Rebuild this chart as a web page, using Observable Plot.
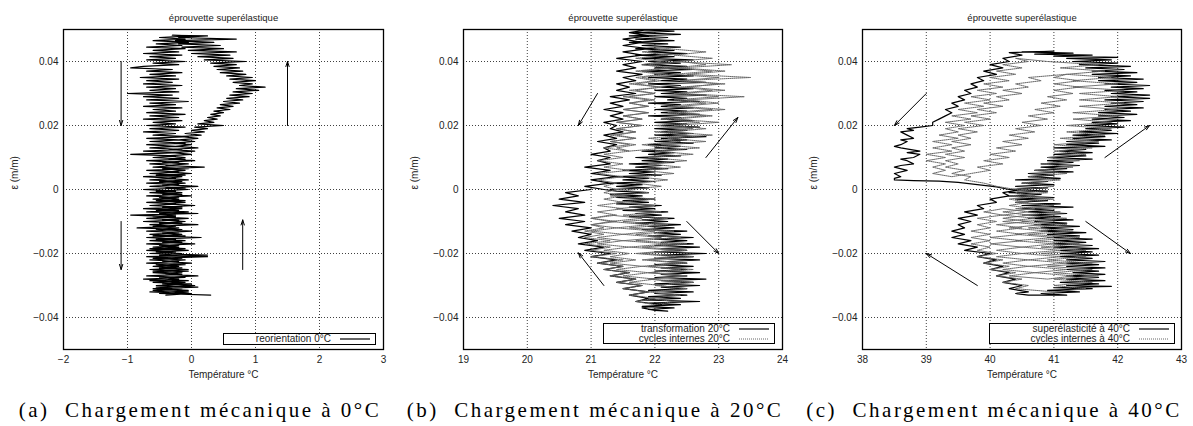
<!DOCTYPE html>
<html><head><meta charset="utf-8">
<script src="https://cdn.jsdelivr.net/npm/d3@7"></script>
<script src="https://cdn.jsdelivr.net/npm/@observablehq/plot@0.6"></script>
<style>
body{margin:0;background:#fff;}
#root{position:relative;width:1193px;height:426px;overflow:hidden;background:#fff;}
.panel{position:absolute;top:0;}
.cap{position:absolute;top:398px;font-family:"Liberation Serif","DejaVu Serif",serif;font-size:21px;letter-spacing:2.5px;white-space:pre;transform:translateX(-50%);color:#000;}
.leg{position:absolute;border:1px solid #000;background:#fff;font-family:"Liberation Sans",Arial,sans-serif;font-size:10px;color:#222;box-sizing:border-box;}
.row{display:flex;justify-content:flex-end;align-items:center;height:10px;line-height:10px;padding-right:5px;}
.row svg{margin-left:9px;}
</style></head>
<body><div id="root"></div>
<script>
// ---------- data ----------
const titleText = "éprouvette superélastique";
const xLabel = "Température °C";
const yLabel = "ε (m/m)";
const captions = ["(a)  Chargement mécanique à 0°C", "(b)  Chargement mécanique à 20°C", "(c)  Chargement mécanique à 40°C"];
const yTicks = [-0.04, -0.02, 0, 0.02, 0.04];
const xTicksA = [-2, -1, 0, 1, 2, 3];
const xTicksB = [19, 20, 21, 22, 23, 24];
const xTicksC = [38, 39, 40, 41, 42, 43];
const legendA = ["reorientation 0°C"];
const legendB = ["transformation 20°C", "cycles internes 20°C"];
const legendC = ["superélasticité à 40°C", "cycles internes à 40°C"];

// panel (a): reorientation 0°C  [temperature °C, strain m/m]
const reorientation0 = [
[0.30,-0.0330],[-0.50,-0.0325],[-0.05,-0.0320],[-0.60,-0.0315],[-0.15,-0.0310],[-0.55,-0.0305],[0.05,-0.0300],[-0.45,-0.0295],[-0.10,-0.0290],[-0.65,-0.0285],
[-0.20,-0.0280],[-0.50,-0.0275],[0.10,-0.0270],[-0.40,-0.0265],[-0.15,-0.0260],[-0.60,-0.0255],[-0.05,-0.0250],[-0.50,-0.0245],[-0.20,-0.0240],[-0.55,-0.0235],
[0.00,-0.0230],[-0.45,-0.0225],[-0.10,-0.0220],[-0.60,-0.0215],[0.25,-0.0210],[-0.50,-0.0205],[-0.15,-0.0200],[-0.55,-0.0195],[-0.05,-0.0190],[-0.65,-0.0185],
[-0.20,-0.0180],[-0.50,-0.0175],[0.05,-0.0170],[-0.45,-0.0165],[-0.10,-0.0160],[-0.55,-0.0155],[0.15,-0.0150],[-0.60,-0.0145],[-0.15,-0.0140],[-0.45,-0.0135],
[0.00,-0.0130],[-0.55,-0.0125],[-0.20,-0.0120],[-0.60,-0.0115],[0.10,-0.0110],[-0.50,-0.0105],[-0.10,-0.0100],[-0.45,-0.0095],[-0.05,-0.0090],[-0.60,-0.0085],
[-0.25,-0.0080],[-0.50,-0.0075],[-0.05,-0.0070],[-0.55,-0.0065],[-0.15,-0.0060],[-0.45,-0.0055],[0.05,-0.0050],[-0.40,-0.0045],[-0.10,-0.0040],[-0.55,-0.0035],
[-0.20,-0.0030],[-0.50,-0.0025],[0.00,-0.0020],[-0.45,-0.0015],[-0.15,-0.0010],[-0.55,-0.0005],[-0.05,0.0000],[-0.40,0.0005],[0.10,0.0010],[-0.45,0.0015],
[-0.10,0.0020],[-0.50,0.0025],[-0.05,0.0030],[-0.40,0.0035],[-0.15,0.0040],[-0.55,0.0045],[0.00,0.0050],[-0.35,0.0055],[-0.10,0.0060],[-0.45,0.0065],
[0.20,0.0070],[-0.40,0.0075],[-0.05,0.0080],[-0.45,0.0085],[0.05,0.0090],[-0.35,0.0095],[-0.10,0.0100],[-0.40,0.0105],[0.00,0.0110],[-0.30,0.0115],
[0.05,0.0120],[-0.35,0.0125],[0.10,0.0130],[-0.25,0.0135],[0.00,0.0140],[-0.30,0.0145],[0.05,0.0150],[-0.20,0.0155],[0.10,0.0160],[-0.15,0.0165],
[0.15,0.0170],[-0.10,0.0175],[0.20,0.0180],[0.00,0.0185],[0.25,0.0190],[0.05,0.0195],[0.50,0.0200],
[0.10,0.0205],[0.35,0.0210],[0.20,0.0215],[0.40,0.0220],[0.25,0.0225],[0.45,0.0230],[0.30,0.0235],[0.50,0.0240],[0.35,0.0245],[0.60,0.0250],
[0.40,0.0255],[0.65,0.0260],[0.45,0.0265],[0.75,0.0270],[0.50,0.0275],[0.80,0.0280],[0.55,0.0285],[0.90,0.0290],[0.60,0.0295],[0.95,0.0300],
[0.65,0.0305],[1.05,0.0310],[0.70,0.0315],[1.15,0.0320],[0.75,0.0325],[0.95,0.0330],[0.65,0.0335],[1.00,0.0340],[0.60,0.0345],[0.95,0.0350],
[0.55,0.0355],[0.85,0.0360],[0.45,0.0365],[0.80,0.0370],[0.40,0.0375],[0.75,0.0380],[0.35,0.0385],[0.70,0.0390],[0.30,0.0395],[0.85,0.0400],
[0.20,0.0405],[0.65,0.0410],[0.10,0.0415],[0.60,0.0420],[0.00,0.0425],[0.70,0.0430],[-0.05,0.0435],[0.50,0.0440],[-0.15,0.0445],[0.45,0.0450],
[-0.20,0.0455],[0.35,0.0460],[-0.25,0.0465],[0.70,0.0470],[-0.20,0.0475],[0.25,0.0480],[-0.30,0.0482],
[0.00,0.0480],[-0.50,0.0475],[-0.10,0.0470],[-0.60,0.0465],[-0.05,0.0460],[-0.55,0.0455],[-0.15,0.0450],[-0.70,0.0445],[-0.10,0.0440],[-0.60,0.0435],
[-0.20,0.0430],[-0.75,0.0425],[-0.15,0.0420],[-0.65,0.0415],[-0.25,0.0410],[-0.70,0.0405],[-0.10,0.0400],[-0.60,0.0395],[-0.20,0.0390],[-0.75,0.0385],
[-0.95,0.0380],[-0.30,0.0375],[-0.70,0.0370],[-0.15,0.0365],[-0.65,0.0360],[-0.25,0.0355],[-0.80,0.0350],[-0.20,0.0345],[-0.70,0.0340],[-0.30,0.0335],
[-0.75,0.0330],[-0.15,0.0325],[-0.70,0.0320],[-0.25,0.0315],[-0.65,0.0310],[-0.20,0.0305],[-1.00,0.0300],[-0.30,0.0295],[-0.75,0.0290],[-0.20,0.0285],
[-0.70,0.0280],[-0.05,0.0275],[-0.65,0.0270],[-0.25,0.0265],[-0.75,0.0260],[-0.15,0.0255],[-0.60,0.0250],[-0.25,0.0245],[-0.70,0.0240],[-0.10,0.0235],
[-0.65,0.0230],[-0.20,0.0225],[-0.75,0.0220],[-0.15,0.0215],[-0.60,0.0210],[-0.25,0.0205],[-0.70,0.0200],[-0.10,0.0195],[-0.65,0.0190],[-0.20,0.0185],
[-0.75,0.0180],[-0.25,0.0175],[-0.60,0.0170],[-0.05,0.0165],[-0.70,0.0160],[-0.20,0.0155],[-0.65,0.0150],[-0.10,0.0145],[-0.70,0.0140],[-0.25,0.0135],
[-0.65,0.0130],[-0.15,0.0125],[-0.75,0.0120],[-0.20,0.0115],[-0.95,0.0110],[-0.25,0.0105],[-0.60,0.0100],[-0.10,0.0095],[-0.70,0.0090],[-0.20,0.0085],
[-0.65,0.0080],[-0.25,0.0075],[-0.60,0.0070],[-0.05,0.0065],[-0.70,0.0060],[-0.20,0.0055],[-0.65,0.0050],[-0.10,0.0045],[-0.75,0.0040],[-0.25,0.0035],
[-0.65,0.0030],[-0.15,0.0025],[-0.70,0.0020],[-0.20,0.0015],[-0.65,0.0010],[-0.10,0.0005],[-0.75,0.0000],[-0.25,-0.0005],[-0.65,-0.0010],[-0.15,-0.0015],
[-0.70,-0.0020],[-0.20,-0.0025],[-0.60,-0.0030],[-0.10,-0.0035],[-0.70,-0.0040],[-0.25,-0.0045],[-0.65,-0.0050],[-0.15,-0.0055],[-0.75,-0.0060],[-0.20,-0.0065],
[-0.70,-0.0070],[0.10,-0.0075],[-0.95,-0.0080],[-0.25,-0.0085],[-0.70,-0.0090],[-0.20,-0.0095],[-0.75,-0.0100],[-0.15,-0.0105],[-0.65,-0.0110],[-0.25,-0.0115],
[-0.85,-0.0120],[-0.15,-0.0125],[-0.70,-0.0130],[-0.20,-0.0135],[-0.65,-0.0140],[-0.10,-0.0145],[-0.70,-0.0150],[-0.25,-0.0155],[-0.65,-0.0160],[-0.15,-0.0165],
[-0.70,-0.0170],[-0.20,-0.0175],[-0.60,-0.0180],[-0.10,-0.0185],[-0.70,-0.0190],[-0.25,-0.0195],[-0.65,-0.0200],[0.25,-0.0205],[-0.70,-0.0210],[-0.15,-0.0215],
[-0.65,-0.0220],[-0.20,-0.0225],[-0.70,-0.0230],[-0.10,-0.0235],[-0.60,-0.0240],[-0.15,-0.0245],[-0.65,-0.0250],[-0.05,-0.0255],[-0.60,-0.0260],[-0.15,-0.0265],
[-0.70,-0.0270],[-0.10,-0.0275],[-0.75,-0.0280],[-0.05,-0.0285],[-0.60,-0.0290],[0.00,-0.0295],[-0.55,-0.0300],[0.10,-0.0305],[-0.60,-0.0310],[-0.05,-0.0315],
[-0.65,-0.0320],[0.00,-0.0325],[-0.40,-0.0330]
];

// panel (b): transformation 20°C
const transformation20 = [
[21.3,0.0000],[21.9,0.0005],[21.4,0.0010],[21.8,0.0015],[21.3,0.0020],[22.0,0.0025],[21.5,0.0030],[21.9,0.0035],[21.4,0.0040],[22.1,0.0045],
[21.6,0.0050],[22.0,0.0055],[21.5,0.0060],[22.2,0.0065],[21.7,0.0070],[22.1,0.0075],[21.6,0.0080],[22.3,0.0085],[21.8,0.0090],[22.2,0.0095],
[21.7,0.0100],[22.4,0.0105],[21.9,0.0110],[22.3,0.0115],[21.8,0.0120],[22.5,0.0125],[22.0,0.0130],[22.4,0.0135],[21.9,0.0140],[22.6,0.0145],
[22.0,0.0150],[22.5,0.0155],[22.1,0.0160],[22.8,0.0165],[22.0,0.0170],[22.6,0.0175],[22.1,0.0180],[22.5,0.0185],[22.0,0.0190],[22.7,0.0195],
[22.1,0.0200],[22.5,0.0205],[22.0,0.0210],[22.6,0.0215],[22.1,0.0220],[22.4,0.0225],[21.9,0.0230],[22.7,0.0235],[22.1,0.0240],[22.5,0.0245],
[22.0,0.0250],[22.6,0.0255],[22.1,0.0260],[22.4,0.0265],[21.9,0.0270],[22.7,0.0275],[22.2,0.0280],[22.5,0.0285],[22.0,0.0290],[22.8,0.0295],
[22.1,0.0300],[22.5,0.0305],[22.0,0.0310],[22.6,0.0315],[22.1,0.0320],[22.4,0.0325],[21.9,0.0330],[22.8,0.0335],[22.1,0.0340],[22.5,0.0345],
[21.9,0.0350],[22.6,0.0355],[22.0,0.0360],[22.4,0.0365],[21.8,0.0370],[22.6,0.0375],[22.0,0.0380],[22.5,0.0385],[21.8,0.0390],[22.4,0.0395],
[21.9,0.0400],[22.6,0.0405],[21.8,0.0410],[22.3,0.0415],[21.7,0.0420],[22.5,0.0425],[21.9,0.0430],[22.3,0.0435],[21.7,0.0440],[22.4,0.0445],
[21.8,0.0450],[22.2,0.0455],[21.6,0.0460],[22.3,0.0465],[21.7,0.0470],[22.2,0.0475],[21.6,0.0480],[22.4,0.0485],[21.7,0.0490],[22.3,0.0495],
[21.6,0.0500],[22.2,0.0505],
[21.9,0.050],[21.6,0.049],[21.9,0.048],[21.5,0.047],[21.8,0.046],[21.5,0.045],[21.9,0.044],[21.5,0.043],[21.8,0.042],[21.4,0.041],
[21.8,0.040],[21.5,0.039],[21.7,0.038],[21.4,0.037],[21.8,0.036],[21.5,0.035],[21.7,0.034],[21.4,0.033],[21.6,0.032],[21.4,0.031],
[21.7,0.030],[21.3,0.029],[21.6,0.028],[21.3,0.027],[21.5,0.026],[21.2,0.025],[21.5,0.024],[21.3,0.023],[21.5,0.022],[21.2,0.021],
[21.4,0.020],[21.3,0.019],[21.5,0.018],[21.2,0.017],[21.4,0.016],[21.1,0.015],[21.4,0.014],[21.2,0.013],[21.3,0.012],[21.0,0.011],
[21.3,0.010],[21.1,0.009],[21.3,0.008],[20.9,0.007],[21.3,0.006],[21.0,0.005],[21.4,0.004],[21.0,0.003],[21.3,0.002],[20.9,0.001],[21.2,0.000],
[21.4,-0.0005],[21.9,-0.0010],[21.3,-0.0015],[21.8,-0.0020],[21.4,-0.0025],[22.0,-0.0030],[21.5,-0.0035],[21.9,-0.0040],[21.4,-0.0045],[22.1,-0.0050],
[21.6,-0.0055],[22.0,-0.0060],[21.5,-0.0065],[22.2,-0.0070],[21.7,-0.0075],[22.1,-0.0080],[21.6,-0.0085],[22.3,-0.0090],[21.8,-0.0095],[22.2,-0.0100],
[21.7,-0.0105],[22.4,-0.0110],[21.9,-0.0115],[22.3,-0.0120],[21.8,-0.0125],[22.5,-0.0130],[22.0,-0.0135],[22.4,-0.0140],[21.9,-0.0145],[22.6,-0.0150],
[22.0,-0.0155],[22.5,-0.0160],[22.1,-0.0165],[22.6,-0.0170],[22.0,-0.0175],[22.7,-0.0180],[22.1,-0.0185],[22.5,-0.0190],[22.0,-0.0195],[22.8,-0.0200],
[22.1,-0.0205],[22.6,-0.0210],[22.0,-0.0215],[22.7,-0.0220],[22.2,-0.0225],[22.5,-0.0230],[22.0,-0.0235],[22.6,-0.0240],[22.1,-0.0245],[22.5,-0.0250],
[22.0,-0.0255],[22.7,-0.0260],[22.1,-0.0265],[22.5,-0.0270],[22.0,-0.0275],[22.8,-0.0280],[22.1,-0.0285],[22.6,-0.0290],[22.0,-0.0295],[22.7,-0.0300],
[22.1,-0.0305],[22.5,-0.0310],[21.9,-0.0315],[22.6,-0.0320],[22.0,-0.0325],[22.5,-0.0330],[21.9,-0.0335],[22.4,-0.0340],[21.8,-0.0345],[22.7,-0.0350],
[21.9,-0.0355],[22.4,-0.0360],[21.8,-0.0365],[22.3,-0.0370],[21.9,-0.0375],[22.2,-0.0380],
[22.0,-0.0378],[21.8,-0.037],[22.1,-0.036],[21.7,-0.035],[21.9,-0.034],[21.6,-0.033],[21.9,-0.032],[21.5,-0.031],[21.8,-0.030],[21.4,-0.029],
[21.7,-0.028],[21.3,-0.027],[21.6,-0.026],[21.2,-0.025],[21.5,-0.024],[21.1,-0.023],[21.4,-0.022],[21.0,-0.021],[21.3,-0.020],[20.9,-0.019],
[21.2,-0.018],[20.8,-0.017],[21.1,-0.016],[20.8,-0.015],[21.0,-0.014],[20.7,-0.013],[21.0,-0.012],[20.6,-0.011],[20.9,-0.010],[20.5,-0.009],
[20.9,-0.008],[20.6,-0.007],[20.8,-0.006],[20.4,-0.005],[20.9,-0.004],[20.5,-0.003],[20.8,-0.002],[20.6,-0.001],[21.0,0.000]
];

// panel (b): cycles internes 20°C
const cycles20 = [
[21.6,0.000],[22.1,0.001],[21.7,0.002],[22.2,0.003],[21.7,0.004],[22.3,0.005],[21.8,0.006],[22.4,0.007],[21.9,0.008],[22.5,0.009],
[21.9,0.010],[22.6,0.011],[22.0,0.012],[22.7,0.013],[22.1,0.014],[22.8,0.015],[22.2,0.016],[22.9,0.017],[22.2,0.018],[22.8,0.019],
[22.3,0.020],[23.0,0.021],[22.3,0.022],[22.9,0.023],[22.4,0.024],[23.1,0.025],[22.4,0.026],[23.0,0.027],[22.5,0.028],[23.4,0.029],
[22.4,0.030],[23.1,0.031],[22.5,0.032],[23.0,0.033],[22.4,0.034],[23.5,0.035],[22.5,0.036],[23.1,0.037],[22.4,0.038],[23.2,0.039],
[22.3,0.040],[22.9,0.041],[22.3,0.042],[22.8,0.043],[22.2,0.044],
[21.8,0.043],[22.2,0.042],[21.7,0.041],[22.1,0.040],[21.8,0.039],[22.2,0.038],[21.7,0.037],[22.1,0.036],[21.7,0.035],[22.0,0.034],
[21.6,0.033],[22.1,0.032],[21.6,0.031],[22.0,0.030],[21.5,0.029],[21.9,0.028],[21.6,0.027],[21.9,0.026],[21.5,0.025],[21.9,0.024],
[21.5,0.023],[21.8,0.022],[21.4,0.021],[21.8,0.020],[21.4,0.019],[21.7,0.018],[21.4,0.017],[21.7,0.016],[21.3,0.015],[21.7,0.014],
[21.4,0.013],[21.6,0.012],
[22.2,0.013],[21.8,0.014],[22.4,0.015],[21.9,0.016],[22.5,0.017],[22.0,0.018],[22.6,0.019],[22.0,0.020],[22.7,0.021],[22.1,0.022],
[22.8,0.023],[22.2,0.024],[22.9,0.025],[22.2,0.026],[22.8,0.027],[22.3,0.028],[23.0,0.029],[22.3,0.030],[22.9,0.031],[22.4,0.032],
[23.1,0.033],[22.4,0.034],[23.0,0.035],[22.3,0.036],[22.9,0.037],[22.3,0.038],[22.8,0.039],[22.4,0.040],
[21.9,0.039],[22.3,0.038],[21.8,0.037],[22.2,0.036],[21.8,0.035],[22.1,0.034],[21.7,0.033],[22.1,0.032],[21.7,0.031],[22.0,0.030],
[21.6,0.029],[22.0,0.028],[21.6,0.027],[21.9,0.026],[21.5,0.025],[21.9,0.024],[21.5,0.023],[21.8,0.022],[21.4,0.021],[21.8,0.020],
[21.4,0.019],[21.7,0.018],[21.3,0.017],[21.7,0.016],[21.3,0.015],[21.6,0.014],[21.2,0.013],[21.6,0.012],[21.2,0.011],[21.5,0.010],
[21.1,0.009],[21.5,0.008],[21.2,0.007],[21.6,0.006],[21.1,0.005],[21.5,0.004],[21.1,0.003],[21.4,0.002],[21.2,0.001],[21.4,0.000],
[21.9,-0.001],[21.3,-0.002],[22.0,-0.003],[21.4,-0.004],[22.0,-0.005],[21.4,-0.006],[22.1,-0.007],[21.5,-0.008],[22.2,-0.009],[21.5,-0.010],
[22.2,-0.011],[21.6,-0.012],[22.3,-0.013],[21.7,-0.014],[22.4,-0.015],[21.7,-0.016],[22.5,-0.017],[21.8,-0.018],[22.5,-0.019],[21.8,-0.020],
[22.6,-0.021],[21.9,-0.022],[22.5,-0.023],[21.9,-0.024],[22.6,-0.025],[21.9,-0.026],[22.5,-0.027],[21.9,-0.028],[22.6,-0.029],[22.0,-0.030],
[22.5,-0.031],[21.9,-0.032],[22.4,-0.033],[21.9,-0.034],[22.3,-0.035],[22.0,-0.036],
[21.7,-0.035],[22.0,-0.034],[21.6,-0.033],[21.9,-0.032],[21.5,-0.031],[21.8,-0.030],[21.4,-0.029],[21.7,-0.028],[21.3,-0.027],[21.6,-0.026],
[21.2,-0.025],[21.5,-0.024],[21.1,-0.023],[21.5,-0.022],[21.0,-0.021],[21.4,-0.020],[21.0,-0.019],[21.3,-0.018],[20.9,-0.017],[21.3,-0.016],
[20.9,-0.015],[21.2,-0.014],[20.9,-0.013],[21.2,-0.012],[21.0,-0.011],[21.3,-0.010],[21.0,-0.009],[21.3,-0.008],
[21.8,-0.009],[21.3,-0.010],[21.9,-0.011],[21.4,-0.012],[22.0,-0.013],[21.5,-0.014],[22.1,-0.015],[21.5,-0.016],[22.2,-0.017],[21.6,-0.018],
[22.3,-0.019],[21.7,-0.020],[22.3,-0.021],[21.8,-0.022],[22.4,-0.023],[21.8,-0.024],[22.4,-0.025],[21.9,-0.026],[22.5,-0.027],[21.9,-0.028],
[22.4,-0.029],[22.1,-0.030],
[21.6,-0.029],[22.0,-0.028],[21.5,-0.027],[21.9,-0.026],[21.4,-0.025],[21.8,-0.024],[21.3,-0.023],[21.7,-0.022],[21.3,-0.021],[21.6,-0.020],
[21.2,-0.019],[21.6,-0.018],[21.1,-0.017],[21.5,-0.016],[21.1,-0.015],[21.5,-0.014],[21.0,-0.013],[21.4,-0.012],[21.0,-0.011],[21.4,-0.010],
[21.0,-0.009],[21.4,-0.008],[21.1,-0.007],[21.5,-0.006],[21.1,-0.005],[21.5,-0.004],[21.2,-0.003],[21.5,-0.002],[21.2,-0.001],[21.4,0.000]
];

// panel (c): superélasticité à 40°C
const superelasticite40 = [
[40.3,0.0000],[40.9,0.0005],[40.4,0.0010],[41.0,0.0015],[40.5,0.0020],[40.9,0.0025],[40.4,0.0030],[41.1,0.0035],[40.6,0.0040],[41.0,0.0045],
[40.6,0.0050],[41.3,0.0055],[40.7,0.0060],[41.2,0.0065],[40.8,0.0070],[41.4,0.0075],[40.8,0.0080],[41.3,0.0085],[40.9,0.0090],[41.6,0.0095],
[40.9,0.0100],[41.5,0.0105],[41.0,0.0110],[41.6,0.0115],[41.1,0.0120],[41.5,0.0125],[41.0,0.0130],[41.8,0.0135],[41.2,0.0140],[41.7,0.0145],
[41.2,0.0150],[41.9,0.0155],[41.3,0.0160],[41.8,0.0165],[41.3,0.0170],[42.0,0.0175],[41.4,0.0180],[41.9,0.0185],[41.5,0.0190],[42.1,0.0195],
[41.5,0.0200],[42.0,0.0205],[41.6,0.0210],[42.2,0.0215],[41.6,0.0220],[42.1,0.0225],[41.7,0.0230],[42.3,0.0235],[41.7,0.0240],[42.2,0.0245],
[41.8,0.0250],[42.4,0.0255],[41.8,0.0260],[42.3,0.0265],[41.9,0.0270],[42.4,0.0275],[41.8,0.0280],[42.5,0.0285],[41.9,0.0290],[42.5,0.0295],
[41.9,0.0300],[42.3,0.0305],[41.8,0.0310],[42.4,0.0315],[41.9,0.0320],[42.5,0.0325],[41.8,0.0330],[42.3,0.0335],[41.7,0.0340],[42.4,0.0345],
[41.7,0.0350],[42.2,0.0355],[41.6,0.0360],[42.3,0.0365],[41.6,0.0370],[42.1,0.0375],[41.5,0.0380],[42.2,0.0385],[41.4,0.0390],[42.0,0.0395],
[41.3,0.0400],[41.9,0.0405],[41.2,0.0410],[42.0,0.0413],[41.0,0.0417],[41.6,0.0420],[40.7,0.0423],[41.3,0.0426],[40.5,0.0430],[41.0,0.0432],
[40.3,0.0428],[40.5,0.042],[40.2,0.041],[40.3,0.040],[40.0,0.039],[40.2,0.038],[39.9,0.037],[40.1,0.036],[39.8,0.035],[39.9,0.034],
[39.7,0.033],[39.8,0.032],[39.6,0.031],[39.7,0.030],[39.5,0.029],[39.6,0.028],[39.4,0.027],[39.5,0.026],[39.3,0.025],[39.4,0.024],
[39.3,0.023],[39.2,0.022],[39.1,0.021],[39.1,0.020],[38.9,0.0195],[38.7,0.019],[38.8,0.0185],[38.6,0.018],[38.7,0.017],[38.8,0.016],
[38.6,0.0155],[38.7,0.015],[38.6,0.014],[38.5,0.0135],[38.6,0.013],[38.9,0.012],[38.7,0.0115],[38.9,0.011],[38.8,0.010],[38.6,0.0095],
[38.7,0.009],[38.8,0.008],[38.6,0.0075],[38.5,0.007],[38.7,0.006],[38.5,0.005],[38.6,0.004],[38.5,0.0035],[38.5,0.003],[38.8,0.0028],
[39.2,0.0026],[39.5,0.0022],[39.8,0.0015],[40.1,0.0008],[40.3,0.0000],
[40.9,-0.0005],[40.3,-0.0010],[40.8,-0.0015],[40.3,-0.0020],[41.0,-0.0025],[40.4,-0.0030],[40.9,-0.0035],[40.4,-0.0040],[41.1,-0.0045],[40.5,-0.0050],
[41.3,-0.0055],[40.5,-0.0060],[41.0,-0.0065],[40.6,-0.0070],[41.2,-0.0075],[40.6,-0.0080],[41.1,-0.0085],[40.6,-0.0090],[41.3,-0.0095],[40.7,-0.0100],
[41.2,-0.0105],[40.7,-0.0110],[41.4,-0.0115],[40.8,-0.0120],[41.3,-0.0125],[40.8,-0.0130],[41.5,-0.0135],[40.9,-0.0140],[41.4,-0.0145],[40.9,-0.0150],
[41.6,-0.0155],[41.0,-0.0160],[41.5,-0.0165],[41.0,-0.0170],[41.6,-0.0175],[41.0,-0.0180],[41.7,-0.0185],[41.1,-0.0190],[41.6,-0.0195],[41.1,-0.0200],
[41.7,-0.0205],[41.1,-0.0210],[41.6,-0.0215],[41.2,-0.0220],[41.8,-0.0225],[41.2,-0.0230],[41.7,-0.0235],[41.2,-0.0240],[41.8,-0.0245],[41.2,-0.0250],
[41.7,-0.0255],[41.3,-0.0260],[41.8,-0.0265],[41.2,-0.0270],[41.7,-0.0275],[41.2,-0.0280],[41.8,-0.0285],[41.1,-0.0290],[41.7,-0.0295],[41.2,-0.0300],
[41.9,-0.0303],[41.0,-0.0307],[41.6,-0.0310],[40.9,-0.0315],[41.4,-0.0320],[40.8,-0.0325],[41.2,-0.0330],
[40.6,-0.0330],[40.4,-0.0325],[40.6,-0.032],[40.3,-0.031],[40.5,-0.030],[40.2,-0.029],[40.4,-0.028],[40.1,-0.027],[40.3,-0.026],[40.0,-0.025],
[40.2,-0.024],[39.9,-0.023],[40.1,-0.022],[39.8,-0.021],[40.0,-0.020],[39.6,-0.019],[39.8,-0.018],[39.5,-0.017],[39.7,-0.016],[39.4,-0.015],
[39.6,-0.014],[39.4,-0.013],[39.6,-0.012],[39.5,-0.011],[39.7,-0.010],[39.5,-0.009],[39.8,-0.008],[39.6,-0.007],[39.9,-0.006],[39.8,-0.005],
[40.1,-0.004],[40.0,-0.003],[40.3,-0.002],[40.2,-0.001],[40.5,0.000]
];

// panel (c): cycles internes à 40°C
const cycles40 = [
[40.5,0.000],[41.0,0.001],[40.5,0.002],[41.1,0.003],[40.6,0.004],[41.2,0.005],[40.7,0.006],[41.3,0.007],[40.8,0.008],[41.4,0.009],
[40.9,0.010],[41.5,0.011],[41.0,0.012],[41.6,0.013],[41.0,0.014],[41.7,0.015],[41.1,0.016],[41.8,0.017],[41.2,0.018],[41.9,0.019],
[41.2,0.020],[41.9,0.021],[41.3,0.022],[42.0,0.023],[41.3,0.024],[42.0,0.025],[41.4,0.026],[42.1,0.027],[41.4,0.028],[42.0,0.029],
[41.4,0.030],[42.1,0.031],[41.3,0.032],[42.0,0.033],[41.3,0.034],[41.9,0.035],[41.2,0.036],[41.8,0.037],[41.1,0.038],[41.7,0.039],
[40.9,0.040],[40.4,0.041],
[40.6,0.040],[40.2,0.039],[40.5,0.038],[40.1,0.037],[40.4,0.036],[40.0,0.035],[40.3,0.034],[39.9,0.033],[40.2,0.032],[39.8,0.031],
[40.1,0.030],[39.7,0.029],[40.0,0.028],[39.6,0.027],[39.9,0.026],[39.5,0.025],[39.8,0.024],[39.4,0.023],[39.7,0.022],[39.3,0.021],
[39.6,0.020],[39.3,0.019],[39.5,0.018],[39.2,0.017],[39.5,0.016],[39.1,0.015],[39.4,0.014],[39.1,0.013],[39.4,0.012],[39.0,0.011],
[39.3,0.010],[39.0,0.009],[39.3,0.008],[39.1,0.007],[39.3,0.006],[39.1,0.005],[39.4,0.004],
[39.7,0.005],[40.0,0.006],[39.8,0.007],[40.2,0.008],[39.9,0.009],[40.3,0.010],[40.0,0.011],[40.4,0.012],[40.1,0.013],[40.5,0.014],
[40.2,0.015],[40.6,0.016],[40.3,0.017],[40.7,0.018],[40.4,0.019],[40.8,0.020],[40.5,0.021],[40.9,0.022],[40.6,0.023],[41.0,0.024],
[40.7,0.025],[41.1,0.026],[40.8,0.027],[41.2,0.028],[40.9,0.029],[41.3,0.030],[41.0,0.031],[41.4,0.032],[41.0,0.033],[41.4,0.034],
[41.0,0.035],[41.2,0.036],
[40.6,0.035],[40.8,0.034],[40.4,0.033],[40.6,0.032],[40.2,0.031],[40.5,0.030],[40.1,0.029],[40.3,0.028],[39.9,0.027],[40.2,0.026],
[39.8,0.025],[40.1,0.024],[39.7,0.023],[40.0,0.022],[39.6,0.021],[39.9,0.020],[39.5,0.019],[39.8,0.018],[39.5,0.017],[39.7,0.016],
[39.4,0.015],[39.7,0.014],[39.4,0.013],[39.6,0.012],[39.3,0.011],[39.6,0.010],[39.3,0.009],[39.5,0.008],[39.3,0.007],[39.6,0.006],
[39.4,0.005],[39.7,0.004],[39.6,0.003],[39.9,0.002],[40.1,0.001],[40.4,0.000],
[40.9,-0.001],[40.3,-0.002],[41.0,-0.003],[40.4,-0.004],[41.0,-0.005],[40.4,-0.006],[41.1,-0.007],[40.5,-0.008],[41.2,-0.009],[40.5,-0.010],
[41.2,-0.011],[40.6,-0.012],[41.3,-0.013],[40.6,-0.014],[41.4,-0.015],[40.7,-0.016],[41.4,-0.017],[40.8,-0.018],[41.5,-0.019],[40.8,-0.020],
[41.5,-0.021],[40.9,-0.022],[41.6,-0.023],[40.9,-0.024],[41.6,-0.025],[41.0,-0.026],[41.7,-0.027],[41.0,-0.028],[41.6,-0.029],[41.0,-0.030],
[41.5,-0.031],[41.0,-0.032],
[40.4,-0.031],[40.6,-0.030],[40.2,-0.029],[40.5,-0.028],[40.1,-0.027],[40.4,-0.026],[40.0,-0.025],[40.3,-0.024],[39.9,-0.023],[40.2,-0.022],
[39.8,-0.021],[40.1,-0.020],[39.8,-0.019],[40.0,-0.018],[39.7,-0.017],[40.0,-0.016],[39.7,-0.015],[40.0,-0.014],[39.7,-0.013],[40.0,-0.012],
[39.8,-0.011],[40.1,-0.010],[39.8,-0.009],[40.2,-0.008],[39.9,-0.007],[40.2,-0.006],
[40.6,-0.007],[40.2,-0.008],[40.7,-0.009],[40.2,-0.010],[40.8,-0.011],[40.3,-0.012],[40.9,-0.013],[40.4,-0.014],[41.0,-0.015],[40.4,-0.016],
[41.0,-0.017],[40.5,-0.018],[41.1,-0.019],[40.5,-0.020],[41.1,-0.021],[40.6,-0.022],[41.2,-0.023],[40.6,-0.024],[41.2,-0.025],[40.7,-0.026],
[41.3,-0.027],[40.9,-0.028],
[40.3,-0.027],[40.7,-0.026],[40.2,-0.025],[40.6,-0.024],[40.2,-0.023],[40.6,-0.022],[40.1,-0.021],[40.5,-0.020],[40.1,-0.019],[40.5,-0.018],
[40.0,-0.017],[40.5,-0.016],[40.0,-0.015],[40.5,-0.014],[40.1,-0.013],[40.5,-0.012],[40.1,-0.011],[40.6,-0.010],[40.2,-0.009],[40.6,-0.008],
[40.2,-0.007],[40.7,-0.006],[40.3,-0.005],[40.6,-0.004],[40.3,-0.003],[40.7,-0.002],[40.4,-0.001],[40.5,0.000]
];

// annotation arrows (data units)
const arrowsA = [
  {x1:-1.1, y1:0.04, x2:-1.1, y2:0.02},
  {x1:-1.1, y1:-0.01, x2:-1.1, y2:-0.025},
  {x1:1.5, y1:0.02, x2:1.5, y2:0.04},
  {x1:0.8, y1:-0.025, x2:0.8, y2:-0.0095}
];
const arrowsB = [
  {x1:21.1, y1:0.03, x2:20.8, y2:0.02},
  {x1:22.8, y1:0.01, x2:23.3, y2:0.0225},
  {x1:22.5, y1:-0.01, x2:23.0, y2:-0.02},
  {x1:21.2, y1:-0.03, x2:20.8, y2:-0.0198}
];
const arrowsC = [
  {x1:39.0, y1:0.03, x2:38.5, y2:0.02},
  {x1:41.8, y1:0.01, x2:42.5, y2:0.02},
  {x1:41.5, y1:-0.01, x2:42.2, y2:-0.02},
  {x1:39.8, y1:-0.03, x2:39.0, y2:-0.02}
];

// ---------- drawing ----------
const fmtY = d => d === 0 ? "0" : d3.format(".2f")(d);
const root = document.getElementById("root");

function panel({left, marginLeft, marginRight, xTicks, series, arrows, caption, capX}) {
  const W = 397, H = 390;
  const marks = [
    Plot.gridX(xTicks, {stroke: "#000", strokeOpacity: 0.75, strokeDasharray: "1,2"}),
    Plot.gridY(yTicks, {stroke: "#000", strokeOpacity: 0.75, strokeDasharray: "1,2"}),
  ];
  for (const s of series) {
    marks.push(Plot.line(s.data, {x: d => d[0], y: d => d[1], stroke: s.stroke, strokeWidth: s.width, strokeDasharray: s.dash, clip: true, curve: "linear"}));
  }
  marks.push(
    Plot.arrow(arrows, {x1: "x1", y1: "y1", x2: "x2", y2: "y2", stroke: "#000", strokeWidth: 1, headLength: 8, headAngle: 36}),
    Plot.frame({stroke: "#000", strokeWidth: 1.3}),
    Plot.axisX(xTicks, {tickSize: 0, tickPadding: 6, label: null, fontSize: 10}),
    Plot.axisY(yTicks, {tickSize: 0, tickPadding: 5, tickFormat: fmtY, label: null, fontSize: 10}),
    Plot.text([titleText], {frameAnchor: "top", dy: -15, fontSize: 9.5, fill: "#222"}),
    Plot.text([xLabel], {frameAnchor: "bottom", dy: 28, fontSize: 10, fill: "#222"}),
    Plot.text([yLabel], {frameAnchor: "left", dx: -49, rotate: -90, fontSize: 10, fill: "#222"})
  );
  const svg = Plot.plot({
    width: W, height: H,
    marginLeft, marginRight, marginTop: 29, marginBottom: H - 349,
    x: {domain: [xTicks[0], xTicks[xTicks.length - 1]]},
    y: {domain: [-0.05, 0.05]},
    style: {fontFamily: "'Liberation Sans', Arial, sans-serif", fontSize: "10px", color: "#222", background: "transparent"},
    marks
  });
  const div = document.createElement("div");
  div.className = "panel";
  div.style.left = left + "px";
  div.appendChild(svg);
  root.appendChild(div);
  const cap = document.createElement("div");
  cap.className = "cap";
  cap.style.left = capX + "px";
  cap.textContent = caption;
  root.appendChild(cap);
}

function legend({left, top, width, height, rows}) {
  const box = document.createElement("div");
  box.className = "leg";
  Object.assign(box.style, {left: left + "px", top: top + "px", width: width + "px", height: height + "px", paddingTop: ((height - 2 - rows.length * 10) / 2) + "px"});
  for (const r of rows) {
    const row = document.createElement("div");
    row.className = "row";
    const span = document.createElement("span");
    span.textContent = r.label;
    row.appendChild(span);
    const ns = "http://www.w3.org/2000/svg";
    const s = document.createElementNS(ns, "svg");
    s.setAttribute("width", 30); s.setAttribute("height", 6);
    const l = document.createElementNS(ns, "line");
    l.setAttribute("x1", 0); l.setAttribute("x2", 30); l.setAttribute("y1", 3); l.setAttribute("y2", 3);
    l.setAttribute("stroke", r.stroke); l.setAttribute("stroke-width", r.width);
    if (r.dash) l.setAttribute("stroke-dasharray", r.dash);
    s.appendChild(l);
    row.appendChild(s);
    box.appendChild(row);
  }
  root.appendChild(box);
}

const solid = {stroke: "#000", width: 1.2, dash: null};
const dotted = {stroke: "#666", width: 1, dash: "1,1"};

panel({left: 0, marginLeft: 63, marginRight: 14, xTicks: xTicksA, arrows: arrowsA, caption: captions[0], capX: 200,
  series: [{data: reorientation0, ...solid}]});
panel({left: 397, marginLeft: 66, marginRight: 12, xTicks: xTicksB, arrows: arrowsB, caption: captions[1], capX: 595,
  series: [{data: transformation20, ...solid}, {data: cycles20, ...dotted}]});
panel({left: 796, marginLeft: 66, marginRight: 12, xTicks: xTicksC, arrows: arrowsC, caption: captions[2], capX: 994,
  series: [{data: superelasticite40, ...solid}, {data: cycles40, ...dotted}]});

legend({left: 223, top: 333, width: 153, height: 12, rows: [{label: legendA[0], ...solid}]});
legend({left: 603, top: 323, width: 172, height: 21, rows: [{label: legendB[0], ...solid}, {label: legendB[1], ...dotted}]});
legend({left: 989, top: 323, width: 186, height: 21, rows: [{label: legendC[0], ...solid}, {label: legendC[1], ...dotted}]});
</script></body></html>
